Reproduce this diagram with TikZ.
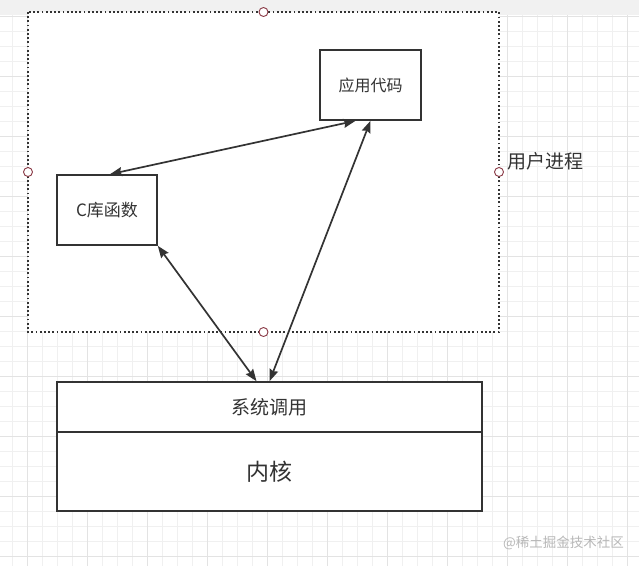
\documentclass[tikz,border=0pt]{standalone}
\usepackage{fontspec}
\setmainfont{Noto Sans CJK SC}
\usetikzlibrary{arrows.meta}
\definecolor{ink}{HTML}{333333}
\definecolor{gridminor}{HTML}{F0F0F0}
\definecolor{gridmajor}{HTML}{E3E3E3}
\definecolor{topband}{HTML}{F1F1F1}
\definecolor{handle}{HTML}{8A3A46}
\definecolor{wm}{HTML}{B8B8B8}
\tikzset{
  box/.style={draw=ink, line width=1.6pt, fill=white, inner sep=0pt, text=ink},
  link/.style={draw=ink, line width=1.7pt, {Stealth[length=12pt,width=9pt,inset=1.5pt]}-{Stealth[length=12pt,width=9pt,inset=1.5pt]}},
  grip/.style={circle, draw=handle, line width=0.9pt, fill=white, minimum size=9pt, inner sep=0pt},
  frame/.style={draw=ink, line width=1.8pt, dash pattern=on 1.8pt off 2.4pt}
}
\begin{document}
\begin{tikzpicture}[x=1pt,y=-1pt]
\useasboundingbox (0,0) rectangle (639,566);
% background
\fill[white] (0,0) rectangle (639,566);
% grid
\foreach \i in {0,...,42} {
  \draw[gridminor, line width=0.8pt] ({12.7+15*\i},15) -- ({12.7+15*\i},566);
}
\foreach \j in {0,...,36} {
  \draw[gridminor, line width=0.8pt] (0,{16.7+15*\j}) -- (639,{16.7+15*\j});
}
\foreach \i in {0,...,10} {
  \draw[gridmajor, line width=0.8pt] ({27.7+60*\i},15) -- ({27.7+60*\i},566);
}
\foreach \j in {0,...,9} {
  \draw[gridmajor, line width=0.8pt] (0,{16.7+60*\j}) -- (639,{16.7+60*\j});
}
\fill[topband] (0,0) rectangle (639,15);
% user process frame
\fill[white] (28,12) rectangle (499,332);
\draw[frame] (28,12) rectangle (499,332);
\node[grip] (h1) at (263.5,12) {};
\node[grip] (h2) at (28,172) {};
\node[grip] (h3) at (499,172) {};
\node[grip] (h4) at (263.5,332) {};
\node[anchor=west, text=ink, font=\fontsize{19}{22}\selectfont, inner sep=0pt] (proc) at (507,161) {用户进程};
% boxes
\node[box, minimum width=101pt, minimum height=70pt, font=\fontsize{16}{19}\selectfont] (app) at (370.5,85) {应用代码};
\node[box, minimum width=100pt, minimum height=70pt, font=\fontsize{17}{20}\selectfont] (clib) at (107,210) {C库函数};
\node[box, minimum width=425pt, minimum height=50pt, font=\fontsize{19}{22}\selectfont] (sys) at (269.5,407) {系统调用};
\node[box, minimum width=425pt, minimum height=79pt, font=\fontsize{23}{26}\selectfont] (kern) at (269.5,471.5) {内核};
% connectors
\draw[link] ([xshift=-15pt]app.south) -- ([xshift=3pt]clib.north);
\draw[link] (clib.south east) -- ([xshift=-13pt]sys.north);
\draw[link] (app.south) -- (sys.north);
% watermark
\node[anchor=west, text=wm, font=\fontsize{13.5}{16}\selectfont, inner sep=0pt] (mark) at (503,543) {@稀土掘金技术社区};
\end{tikzpicture}
\end{document}
